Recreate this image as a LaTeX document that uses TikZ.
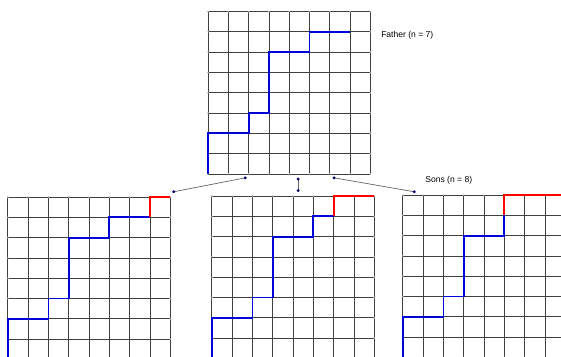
\documentclass[tikz,border=0pt]{standalone}
\usepackage{fontspec}
\setmainfont{Liberation Sans}
\usetikzlibrary{arrows.meta}

\tikzset{
  gridline/.style={black!75, line width=0.6pt, step=1},
  walk/.style={blue!85!black, line width=1.3pt},
  lastmove/.style={red, line width=1.3pt},
  vertexdot/.style={fill=gray!60},
  link/.style={black!60, line width=0.5pt,
    {Circle[length=2pt,color=blue!45!black]}-{Circle[length=2pt,color=blue!45!black]}},
  caption/.style={font=\fontsize{6}{7}\selectfont, anchor=west, inner sep=0pt}
}

% 8x8 lattice with its lower left corner at (#1,#2)
\newcommand{\lattice}[2]{%
  \begin{scope}[shift={(#1,#2)}]
    \draw[gridline] (0,0) grid (8,8);
    \foreach \k in {0,...,8}
      \fill[vertexdot] (\k,0) circle (0.6pt) (\k,8) circle (0.6pt)
                       (0,\k) circle (0.6pt) (8,\k) circle (0.6pt);
  \end{scope}}

\begin{document}
\begin{tikzpicture}[x=0.5cm, y=0.5cm]
\clip (0,0) rectangle (27.64,17.54);

% father
\lattice{10.25}{8.97}
\begin{scope}[shift={(10.25,8.97)}]
  \draw[walk] (0,0) -- (0,2) -- (2,2) -- (2,3) -- (3,3) -- (3,6) -- (5,6) -- (5,7) -- (7,7);
\end{scope}
\node[caption] (father) at (18.77,15.81) {Father (n = 7)};

% sons
\lattice{0.39}{-0.17}
\begin{scope}[shift={(0.39,-0.17)}]
  \draw[walk] (0,0) -- (0,2) -- (2,2) -- (2,3) -- (3,3) -- (3,6) -- (5,6) -- (5,7) -- (7,7);
  \draw[lastmove] (7,7) -- (7,8) -- (8,8);
\end{scope}

\lattice{10.44}{-0.12}
\begin{scope}[shift={(10.44,-0.12)}]
  \draw[walk] (0,0) -- (0,2) -- (2,2) -- (2,3) -- (3,3) -- (3,6) -- (5,6) -- (5,7) -- (6,7);
  \draw[lastmove] (6,7) -- (6,8) -- (8,8);
\end{scope}

\lattice{19.85}{-0.07}
\begin{scope}[shift={(19.85,-0.07)}]
  \draw[walk] (0,0) -- (0,2) -- (2,2) -- (2,3) -- (3,3) -- (3,6) -- (5,6) -- (5,7);
  \draw[lastmove] (5,7) -- (5,8) -- (8,8);
\end{scope}
\node[caption] (sons) at (20.94,8.66) {Sons (n = 8)};

% links father -> sons
\coordinate (fa-l) at (12.15,8.79);
\coordinate (fa-m) at (14.69,8.79);
\coordinate (fa-r) at (16.39,8.79);
\coordinate (son-l) at (8.49,8.08);
\coordinate (son-m) at (14.69,8.08);
\coordinate (son-r) at (20.48,8.08);
\draw[link] (fa-l) -- (son-l);
\draw[link] (fa-m) -- (son-m);
\draw[link] (fa-r) -- (son-r);
\end{tikzpicture}
\end{document}
